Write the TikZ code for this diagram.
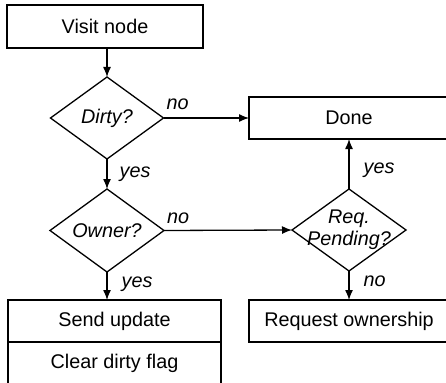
\documentclass[tikz,border=0pt]{standalone}
\usepackage{fontspec}
\setmainfont{Liberation Sans}
\usetikzlibrary{arrows.meta,shapes,positioning}
\tikzset{
	basic/.style = {draw, line width=1.3pt, font=\fontsize{19.8}{22}\selectfont, outer sep=0pt},
	block/.style = {basic, rectangle, inner sep=0pt, minimum height=42pt},
	decision/.style = {basic, diamond, inner sep=-15pt, align=center, font=\fontsize{19.8}{22}\selectfont\itshape},
	answer/.style = {font=\fontsize{19.8}{22}\selectfont\itshape, inner sep=0pt}
}

\begin{document}
\begin{tikzpicture}[x=1pt, y=-1pt, line width=1.3pt, >={Latex[length=10pt,width=8pt]}]
	\useasboundingbox (0,0) rectangle (446,382);
	\clip (0,0) rectangle (446,382);

	% left column
	\node[block, minimum width=196pt, minimum height=43pt] (visit) at (105,26.5) {Visit node};
	\node[decision, minimum width=113pt, minimum height=82pt] (dirty) at (107,118) {Dirty?};
	\node[decision, minimum width=114pt, minimum height=83pt] (owner) at (107,230.5) {Owner?};
	\node[block, minimum width=213pt] (send) at (114.5,321) {Send update};
	\node[block, minimum width=213pt, below=0pt of send] (clear) {Clear dirty flag};

	% right column
	\node[block, minimum width=200pt] (done) at (349,118) {Done};
	\node[decision, minimum width=114pt, minimum height=82pt] (req) at (349,230) {Req.\\Pending?};
	\node[block, minimum width=200pt] (reqown) at (349,321) {Request ownership};

	% connectors
	\draw[->] (dirty.north |- visit.south) -- (dirty.north);
	\draw[->] (dirty.south) -- node[answer, pos=0.5, right=12pt] {yes} (owner.north);
	\draw[->] (dirty.east) -- node[answer, pos=0.165, above=8pt] {no} (done.west);
	\draw[->] (owner.south) -- node[answer, pos=0.45, right=14pt] {yes} (owner.south |- send.north);
	\draw[->] (owner.east) -- node[answer, pos=0.11, above=6pt] {no} (req.west);
	\draw[->] (req.north) -- node[answer, pos=0.38, right=14pt] {yes} (done.south);
	\draw[->] (req.south) -- node[answer, pos=0.35, right=14pt] {no} (reqown.north);
\end{tikzpicture}
\end{document}
